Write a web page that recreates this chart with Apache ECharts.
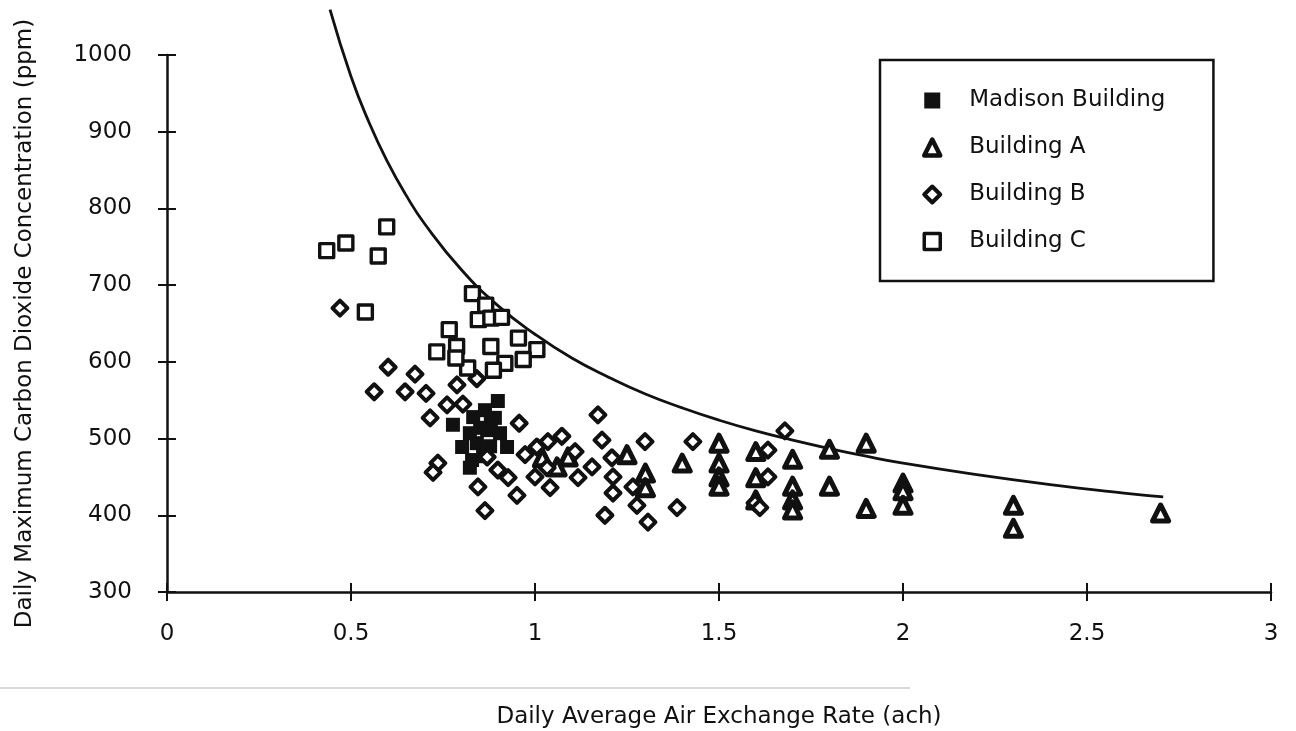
<!DOCTYPE html>
<html>
<head>
<meta charset="utf-8">
<script src="https://cdn.jsdelivr.net/npm/echarts@6/dist/echarts.min.js"></script>
<style>
  html, body { margin: 0; padding: 0; background: #fff; }
  #co2-chart { width: 1296px; height: 731px; }
</style>
</head>
<body>
<div id="co2-chart"></div>
<script>
// values: [air exchange rate (ach), max CO2 (ppm)]
const madisonBuilding = [
    [0.899, 549], [0.777, 518], [0.832, 528], [0.864, 537], [0.880, 520],
    [0.823, 507], [0.870, 511], [0.905, 507], [0.802, 489], [0.842, 494],
    [0.878, 490], [0.924, 489], [0.829, 472], [0.823, 462], [0.859, 477],
    [0.891, 527], [0.851, 514]
];
const buildingA = [
    [1.02, 475], [1.09, 476], [1.06, 463], [1.25, 479], [1.30, 455], [1.30, 436],
    [1.40, 468],
    [1.5, 494], [1.5, 468], [1.5, 450], [1.5, 438],
    [1.6, 483], [1.6, 449], [1.6, 420],
    [1.7, 473], [1.7, 438], [1.7, 420], [1.7, 407],
    [1.8, 486], [1.8, 438],
    [1.9, 494], [1.9, 409],
    [2.0, 442], [2.0, 432], [2.0, 413],
    [2.3, 413], [2.3, 383],
    [2.7, 403]
];
const buildingB = [
    [0.470, 670], [0.601, 593], [0.563, 561], [0.674, 584], [0.647, 561],
    [0.704, 559], [0.715, 527], [0.761, 544], [0.736, 468], [0.723, 456],
    [0.788, 570], [0.842, 578], [0.804, 545], [0.957, 520], [0.870, 476],
    [0.899, 459], [0.845, 437], [0.927, 449], [0.951, 426], [0.864, 406],
    [0.973, 479], [1.005, 489], [1.035, 496], [1.033, 462], [1.000, 450],
    [1.041, 436], [1.073, 503], [1.109, 483], [1.117, 449], [1.155, 463],
    [1.171, 531], [1.182, 498], [1.209, 475], [1.212, 450], [1.212, 429],
    [1.266, 437], [1.277, 413], [1.190, 400], [1.307, 391], [1.299, 496],
    [1.429, 496], [1.386, 410], [1.679, 510], [1.633, 485], [1.633, 450],
    [1.598, 416], [1.611, 410]
];
const buildingC = [
    [0.434, 745], [0.486, 755], [0.597, 776], [0.574, 738], [0.539, 665],
    [0.830, 689], [0.866, 674], [0.846, 655], [0.880, 657], [0.909, 658],
    [0.767, 642], [0.955, 631], [0.733, 613], [0.787, 620], [0.880, 620],
    [1.005, 616], [0.918, 598], [0.968, 603], [0.817, 592], [0.887, 589],
    [0.785, 605]
];
// the drawn reference curve, traced point by point
const curveX = [0.443, 0.5, 0.55, 0.6, 0.65, 0.7, 0.8, 0.9, 1.0, 1.1, 1.2, 1.3,
    1.4, 1.5, 1.6, 1.7, 1.8, 1.9, 2.0, 2.2, 2.4, 2.6, 2.707];
const curveY = [1059, 972, 911, 860, 817, 780, 720, 673, 636, 605, 580, 558,
    540, 524, 510, 498, 487, 477, 468, 453, 440, 429, 424];

const xTicks = { min: 0, max: 3, interval: 0.5 };
const yTicks = { min: 300, max: 1000, interval: 100 };

const FONT = 'DejaVu Sans';
const INK = '#111';

let co2_chart = echarts.init(document.getElementById('co2-chart'));

function hollow(width) {
    return {
        color: '#fff',
        borderColor: INK,
        borderWidth: width,
        borderJoin: 'round',
        opacity: 1
    };
}

let echarts_options = {
    animation: false,
    backgroundColor: '#fff',
    grid: { left: 167, right: 25, top: 55, bottom: 139, outerBoundsMode: 'none' },
    legend: {
        orient: 'vertical',
        left: 880,
        top: 60,
        padding: [29, 48, 28, 42],
        itemGap: 24,
        itemWidth: 16,
        itemHeight: 16,
        borderColor: INK,
        borderWidth: 2.5,
        textStyle: { fontFamily: FONT, fontSize: 23, color: INK, padding: [0, 0, 0, 24] },
        data: [
            { name: 'Madison Building', itemStyle: { color: INK, borderWidth: 0 } },
            { name: 'Building A', itemStyle: hollow(4.5) },
            { name: 'Building B', itemStyle: hollow(4) },
            { name: 'Building C', itemStyle: hollow(3.5) }
        ]
    },
    xAxis: [
        {
            type: 'value',
            min: xTicks.min, max: xTicks.max, interval: xTicks.interval,
            name: 'Daily Average Air Exchange Rate (ach)',
            nameLocation: 'middle',
            nameGap: 114,
            nameTextStyle: { fontFamily: FONT, fontSize: 23, color: INK },
            axisLine: { lineStyle: { color: INK, width: 2.5 } },
            axisTick: { length: 9, lineStyle: { color: INK, width: 2 } },
            axisLabel: { fontFamily: FONT, fontSize: 23, color: INK, margin: 31 },
            splitLine: { show: false }
        },
        {
            type: 'value',
            min: xTicks.min, max: xTicks.max, interval: xTicks.interval,
            position: 'bottom',
            axisLine: { show: false },
            axisTick: { inside: true, length: 9, lineStyle: { color: INK, width: 2 } },
            axisLabel: { show: false },
            splitLine: { show: false }
        }
    ],
    yAxis: [
        {
            type: 'value',
            min: yTicks.min, max: yTicks.max, interval: yTicks.interval,
            name: 'Daily Maximum Carbon Dioxide Concentration (ppm)',
            nameLocation: 'middle',
            nameGap: 130,
            nameTextStyle: { fontFamily: FONT, fontSize: 23, color: INK },
            axisLine: { show: true, lineStyle: { color: INK, width: 2.5 } },
            axisTick: { show: true, length: 9, lineStyle: { color: INK, width: 2 } },
            axisLabel: {
                fontFamily: FONT, fontSize: 23, color: INK, margin: 35,
                formatter: function (v) { return String(v); }
            },
            splitLine: { show: false }
        },
        {
            type: 'value',
            min: yTicks.min, max: yTicks.max, interval: yTicks.interval,
            position: 'left',
            axisLine: { show: false },
            axisTick: { show: true, inside: true, length: 9, lineStyle: { color: INK, width: 2 } },
            axisLabel: { show: false },
            splitLine: { show: false }
        }
    ],
    series: [
        {
            name: 'Madison Building',
            type: 'scatter',
            symbol: 'rect',
            symbolSize: 14,
            itemStyle: { color: INK, opacity: 1 },
            data: madisonBuilding,
            z: 3
        },
        {
            name: 'Building A',
            type: 'scatter',
            symbol: 'triangle',
            symbolSize: 16,
            itemStyle: hollow(5),
            data: buildingA,
            z: 4
        },
        {
            name: 'Building B',
            type: 'scatter',
            symbol: 'diamond',
            symbolSize: 15,
            itemStyle: hollow(4),
            data: buildingB,
            z: 4
        },
        {
            name: 'Building C',
            type: 'scatter',
            symbol: 'rect',
            symbolSize: 14,
            itemStyle: hollow(3.4),
            data: buildingC,
            z: 4
        },
        {
            name: 'curve',
            type: 'line',
            smooth: true,
            showSymbol: false,
            clip: false,
            lineStyle: { color: INK, width: 2.8 },
            data: curveX.map((x, i) => [x, curveY[i]]),
            z: 2
        }
    ],
    graphic: [
        {
            type: 'line',
            shape: { x1: 0, y1: 688, x2: 910, y2: 688 },
            style: { stroke: '#d9d9d9', lineWidth: 2 },
            silent: true
        }
    ]
};

co2_chart.setOption(echarts_options);

window.addEventListener('resize', function () {
    co2_chart?.resize();
});
</script>
</body>
</html>
